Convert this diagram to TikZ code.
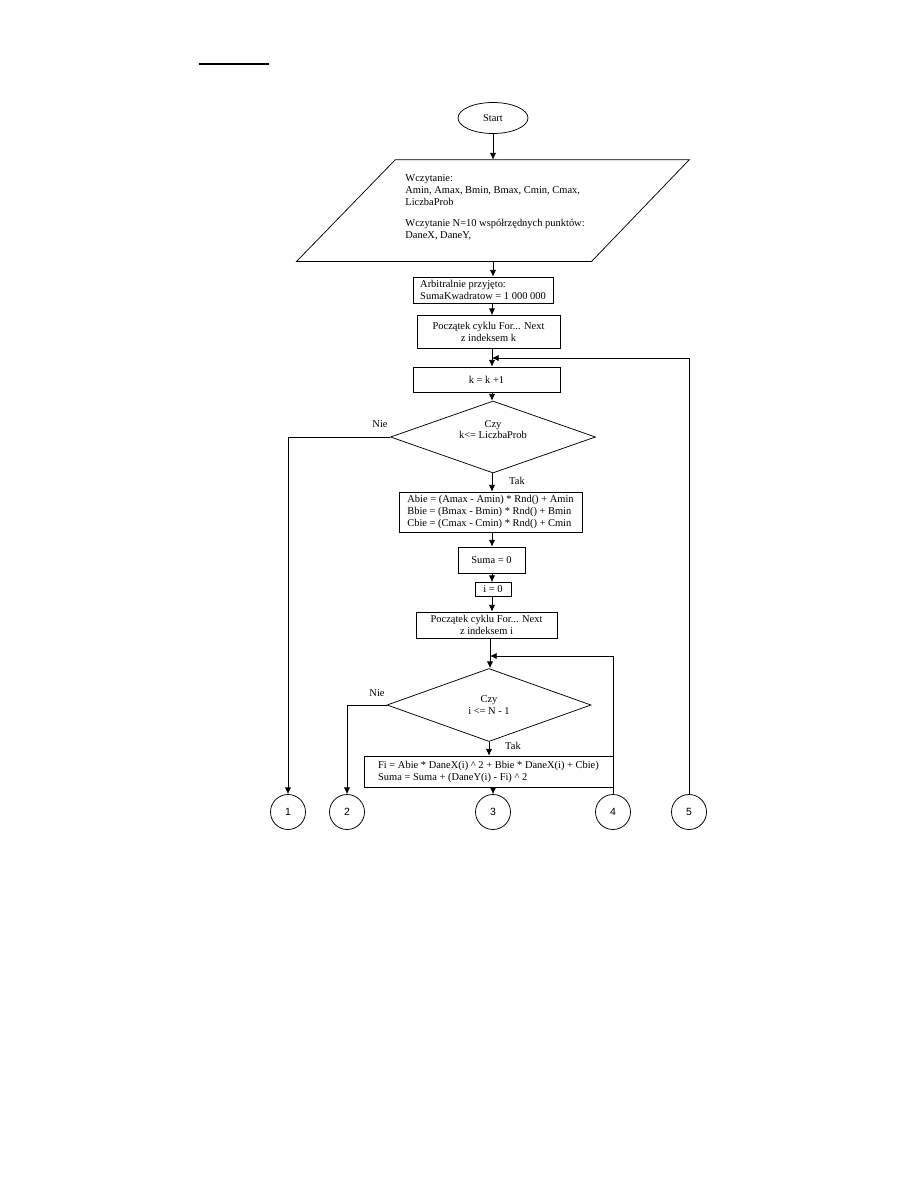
\documentclass[tikz,border=0pt]{standalone}
\usepackage{fontspec}
\setmainfont{Liberation Serif}
\newfontfamily\digitfont{Liberation Sans}
\usetikzlibrary{shapes.geometric,arrows.meta,calc}
\def\px{0.6667bp}
\begin{document}
\begin{tikzpicture}[x=0.6667bp,y=-0.6667bp, line width=0.5pt,
  >={Latex[length=4.5pt,width=4.2pt]},
  txt/.style={font=\fontsize{7}{8}\selectfont},
  box/.style={draw, rectangle, txt, inner sep=0pt},
  dec/.style={draw, diamond, txt, inner sep=0pt, aspect=2.77, align=center},
  conn/.style={draw, circle, font=\digitfont\fontsize{7}{8}\selectfont, minimum size=35*\px, inner sep=0pt},
  lbl/.style={txt, inner sep=0pt}]
\useasboundingbox (0,0) rectangle (918,1188);
\draw[line width=0.8pt] (199,64) -- (269,64);

\node[draw, ellipse, txt, inner sep=0pt, minimum width=70*\px, minimum height=31*\px] (start) at (493,118) {Start};

\node[minimum width=392*\px, minimum height=101*\px, inner sep=0pt] (read) at (493,210.5) {};
\draw (read.south west) -- ++(295,0) -- (read.north east) -- ++(-294,0) -- cycle;
\node[lbl, anchor=north west, align=left] (readtxt) at (405,174) {Wczytanie:\\Amin, Amax, Bmin, Bmax, Cmin, Cmax,\\LiczbaProb\\[6pt]Wczytanie N=10 współrzędnych punktów:\\DaneX, DaneY,};

\node[box, minimum width=140*\px, minimum height=26*\px, align=left] (arb) at (483,290) {Arbitralnie przyjęto:\\SumaKwadratow = 1 000 000};
\node[box, minimum width=143*\px, minimum height=33*\px, align=center] (pk) at (488.5,332) {Początek cyklu For... Next\\z indeksem k};
\node[box, minimum width=147*\px, minimum height=25*\px] (kk) at (486.5,379.5) {k = k +1};
\node[dec, minimum width=205*\px, minimum height=72*\px] (d1) at (493,437) {Czy\\k<= LiczbaProb\\[2pt]};
\node[lbl] (nie1) at (380,424) {Nie};
\node[lbl] (tak1) at (517,481) {Tak};

\node[box, minimum width=183*\px, minimum height=40*\px, align=left] (abc) at (490.5,512) {Abie = (Amax - Amin) * Rnd() + Amin\\Bbie = (Bmax - Bmin) * Rnd() + Bmin\\Cbie = (Cmax - Cmin) * Rnd() + Cmin};
\node[box, minimum width=67*\px, minimum height=26*\px] (suma) at (491.5,560) {Suma = 0};
\node[box, minimum width=36*\px, minimum height=14*\px] (i0) at (493,589.5) {i = 0};
\node[box, minimum width=141*\px, minimum height=26*\px, align=center] (pi) at (486.5,625) {Początek cyklu For... Next\\z indeksem i};
\node[dec, minimum width=204*\px, minimum height=73*\px] (d2) at (489,705) {Czy\\i <= N - 1};
\node[lbl] (nie2) at (377,693) {Nie};
\node[lbl] (tak2) at (513,746) {Tak};
\node[box, minimum width=249*\px, minimum height=31*\px, align=left] (fi) at (488.5,771.5) {Fi = Abie * DaneX(i) \^{} 2 + Bbie * DaneX(i) + Cbie)\\Suma = Suma + (DaneY(i) - Fi) \^{} 2};

\node[conn] (c1) at (288,812) {1};
\node[conn] (c2) at (347,812) {2};
\node[conn] (c3) at (493,812) {3};
\node[conn] (c4) at (613,812) {4};
\node[conn] (c5) at (689,812) {5};

\coordinate (tk) at (492,358);
\coordinate (ti) at (490,656);

\draw[->] (start.south) -- (start.south |- read.north);
\draw[->] (read.south) -- (read.south |- arb.north);
\draw[->] (arb.south -| tk) -- (pk.north -| tk);
\draw[->] (pk.south -| tk) -- (kk.north -| tk);
\draw[->] (c5.north) |- (tk);
\draw[->] (kk.south -| tk) -- (d1.north -| tk);
\draw[->] (d1.west) -| (c1.north);
\draw[->] (d1.south -| tk) -- (abc.north -| tk);
\draw[->] (abc.south -| tk) -- (suma.north -| tk);
\draw[->] (suma.south -| tk) -- (i0.north -| tk);
\draw[->] (i0.south -| tk) -- (pi.north -| tk);
\draw[->] (pi.south -| ti) -- (d2.north -| ti);
\draw[->] (c4.north) |- (ti);
\draw[->] (d2.west) -| (c2.north);
\draw[->] (d2.south) -- (fi.north -| d2.south);
\draw[->] (fi.south -| c3) -- (c3.north);
\end{tikzpicture}
\end{document}
